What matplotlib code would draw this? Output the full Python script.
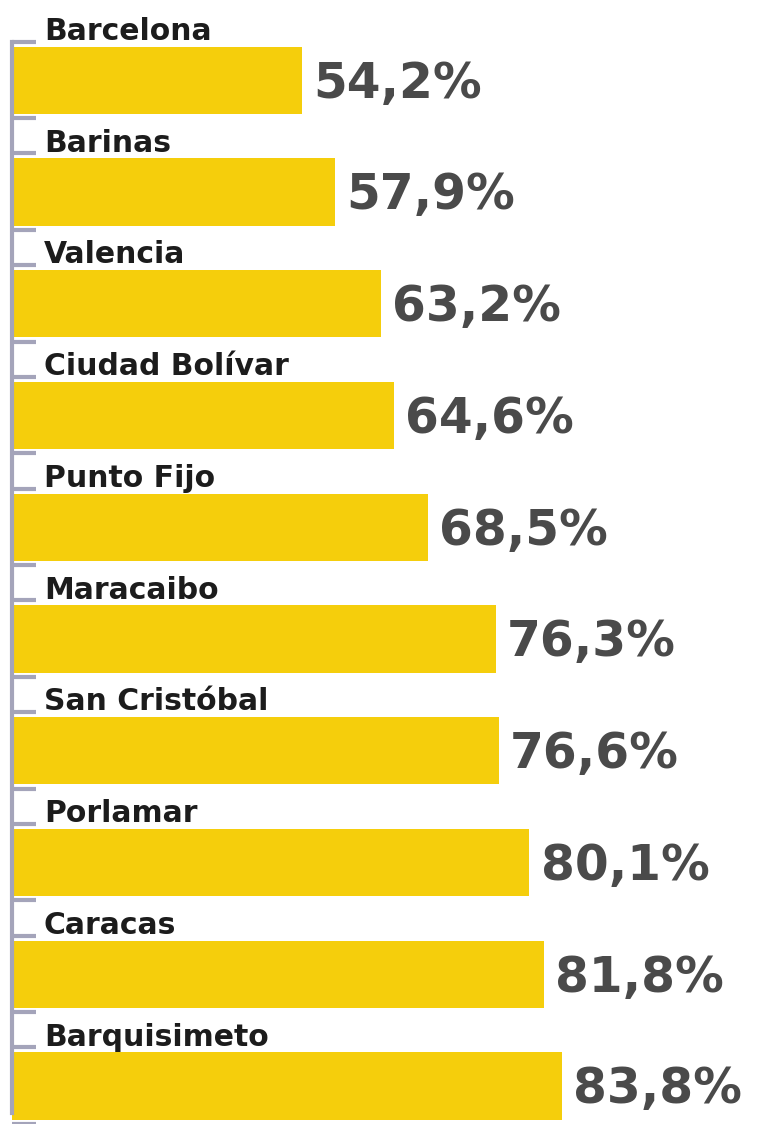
import numpy as np
import matplotlib.pyplot as plt

ciudades = ["Barcelona", "Barinas", "Valencia", "Ciudad Bolívar", "Punto Fijo",
            "Maracaibo", "San Cristóbal", "Porlamar", "Caracas", "Barquisimeto"]
valores = [54.2, 57.9, 63.2, 64.6, 68.5, 76.3, 76.6, 80.1, 81.8, 83.8]
etiquetas = ["54,2%", "57,9%", "63,2%", "64,6%", "68,5%",
             "76,3%", "76,6%", "80,1%", "81,8%", "83,8%"]

amarillo = "#F5CE0C"
gris_eje = "#A4A4BA"

fig = plt.figure(figsize=(7.6, 11.24), dpi=100)
ax = fig.add_axes([12/760, 0, 748/760, 1])

y = np.arange(len(valores))
alto = 0.6
ax.barh(y, valores, height=alto, color=amarillo, zorder=2)

ax.set_xlim(21.08, 106.4)
ax.set_ylim(9.246, -0.718)

# nombre de la ciudad encima de la barra, porcentaje a la derecha
for i, (c, v, t) in enumerate(zip(ciudades, valores, etiquetas)):
    ax.annotate(c, xy=(21.08, i - alto/2), xytext=(23, 5), textcoords="offset points",
                ha="left", va="baseline", fontsize=21.5, fontweight="bold",
                color="#1c1c1c", family="DejaVu Sans")
    ax.annotate(t, xy=(v, i), xytext=(8, -12.5), textcoords="offset points",
                ha="left", va="baseline", fontsize=35, fontweight="bold",
                color="#4a4a4a", family="DejaVu Sans")

# eje izquierdo con marcas arriba y abajo de cada barra
marcas = np.sort(np.concatenate([y - alto/2 - 0.045, y + alto/2 + 0.04]))
ax.set_yticks(marcas)
ax.set_yticklabels([])
ax.tick_params(axis="y", direction="in", length=17, width=3, color=gris_eje)
ax.set_xticks([])
for s in ["top", "right", "bottom"]:
    ax.spines[s].set_visible(False)
ax.spines["left"].set_color(gris_eje)
ax.spines["left"].set_linewidth(3)
ax.spines["left"].set_bounds(marcas[0], 9.246)
ax.set_facecolor("none")

fig.savefig("out.png", dpi=100, facecolor="white")
